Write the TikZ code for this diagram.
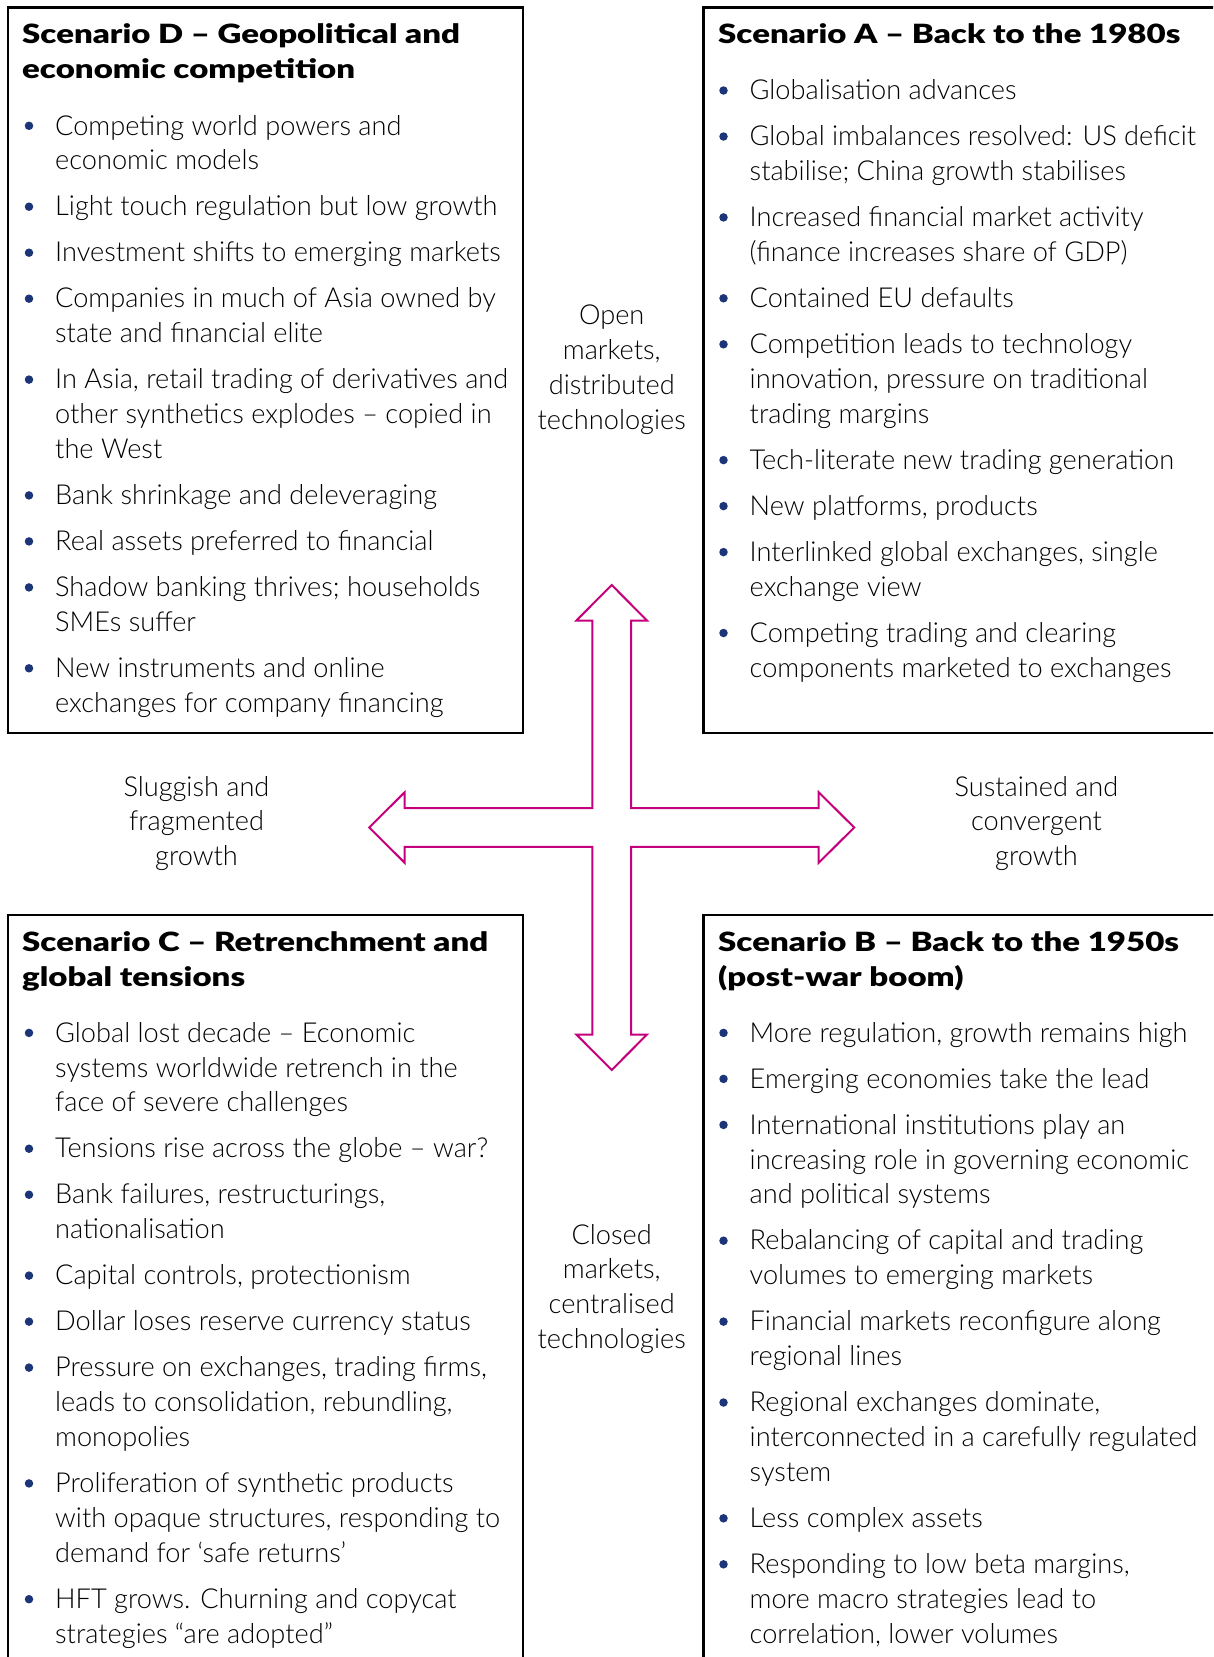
\documentclass[tikz,border=0pt]{standalone}
\usepackage{fontspec}
\IfFontExistsTF{Lato Light}{\newfontfamily\bodyf{Lato Light}[FakeStretch=0.988]}{\newfontfamily\bodyf{Lato}[FakeStretch=0.988]}
\IfFontExistsTF{Lato Black}{\newfontfamily\headf{Lato Black}[FakeStretch=1.245]}{\newfontfamily\headf{Lato}[UprightFont={* Bold},FakeStretch=1.245]}
\definecolor{arrowc}{RGB}{196,0,125}
\definecolor{bulc}{RGB}{28,52,120}
\newcommand\bitem[4]{%
  \node[itm] (#1) at (#2,#3-30) {\rule{0pt}{30pt}#4};
  \node[bul] (#1b) at (#2-26,#3-9) {};}
\newcommand\ttitle[4]{\node[ttl] (#1) at (#2,#3-30) {\rule{0pt}{30pt}#4};}
\newcommand\axlabel[4]{\node[axl] (#1) at (#2,#3-30) {\rule{0pt}{30pt}#4};}
\begin{document}
\begin{tikzpicture}[x=1pt,y=-1pt,
  box/.style={line width=2.2pt, draw=black},
  itm/.style={anchor=north west, inner sep=0pt, align=left, font=\bodyf\fontsize{27.5}{34.9}\selectfont},
  ttl/.style={anchor=north west, inner sep=0pt, align=left, font=\headf\fontsize{26.5}{34.9}\selectfont},
  axl/.style={anchor=north, inner sep=0pt, align=center, font=\bodyf\fontsize{27.5}{34.9}\selectfont},
  bul/.style={circle, fill=bulc, inner sep=0pt, minimum size=8.5pt},
  crossarrow/.style={draw=arrowc, line width=2pt, line join=miter}]
\useasboundingbox (0,0) rectangle (1213,1657);
\clip (0,0) rectangle (1213,1657);
\fill[white] (0,0) rectangle (1213,1657);

% boxes
\draw[box] (8.3,7.4) rectangle (523,733);
\draw[box] (1230,7.4) -- (703.5,7.4) -- (703.5,733) -- (1230,733);
\draw[box] (523,1680) -- (523,915) -- (8.3,915) -- (8.3,1680);
\draw[box] (1230,915) -- (703.5,915) -- (703.5,1680);

% cross arrow
\coordinate (ctr) at (611.7,827.5);
\draw[crossarrow, shift={(ctr)}]
  (0,-242.5) -- (35.3,-207) -- (19.3,-207) -- (19.3,-19.3) -- (207,-19.3) -- (207,-35.3)
  -- (242.5,0) -- (207,35.3) -- (207,19.3) -- (19.3,19.3) -- (19.3,207) -- (35.3,207)
  -- (0,242.5) -- (-35.3,207) -- (-19.3,207) -- (-19.3,19.3) -- (-207,19.3) -- (-207,35.3)
  -- (-242.5,0) -- (-207,-35.3) -- (-207,-19.3) -- (-19.3,-19.3) -- (-19.3,-207) -- (-35.3,-207) -- cycle;

% axis labels
\axlabel{open}{611.7}{324.5}{Open\\markets,\\distributed\\technologies}
\axlabel{closed}{611.7}{1243.8}{Closed\\markets,\\centralised\\technologies}
\axlabel{slug}{196.5}{795.8}{Sluggish and\\fragmented\\growth}
\axlabel{sust}{1036.5}{795.8}{Sustained and\\convergent\\growth}

% Scenario D
\ttitle{tD}{22}{43.7}{Scenario D – Geopolitical and\\economic competition}
\bitem{d1}{55}{134.8}{Competing world powers and\\economic models}
\bitem{d2}{55}{215.7}{Light touch regulation but low growth}
\bitem{d3}{55}{261.7}{Investment shifts to emerging markets}
\bitem{d4}{55}{307.7}{Companies in much of Asia owned by\\state and financial elite}
\bitem{d5}{55}{388.6}{In Asia, retail trading of derivatives and\\other synthetics explodes – copied in\\the West}
\bitem{d6}{55}{504.4}{Bank shrinkage and deleveraging}
\bitem{d7}{55}{550.4}{Real assets preferred to financial}
\bitem{d8}{55}{596.4}{Shadow banking thrives; households\\SMEs suffer}
\bitem{d9}{55}{677.3}{New instruments and online\\exchanges for company financing}

% Scenario A
\ttitle{tA}{718}{43.7}{Scenario A – Back to the 1980s}
\bitem{a1}{749.5}{99.5}{Globalisation advances}
\bitem{a2}{749.5}{145.5}{Global imbalances resolved: US deficit\\stabilise; China growth stabilises}
\bitem{a3}{749.5}{226.4}{Increased financial market activity\\(finance increases share of GDP)}
\bitem{a4}{749.5}{307.3}{Contained EU defaults}
\bitem{a5}{749.5}{353.3}{Competition leads to technology\\innovation, pressure on traditional\\trading margins}
\bitem{a6}{749.5}{469.1}{Tech-literate new trading generation}
\bitem{a7}{749.5}{515.1}{New platforms, products}
\bitem{a8}{749.5}{561.1}{Interlinked global exchanges, single\\exchange view}
\bitem{a9}{749.5}{642.0}{Competing trading and clearing\\components marketed to exchanges}

% Scenario C
\ttitle{tC}{22}{951.3}{Scenario C – Retrenchment and\\global tensions}
\bitem{c1}{55}{1041.9}{Global lost decade – Economic\\systems worldwide retrench in the\\face of severe challenges}
\bitem{c2}{55}{1157.7}{Tensions rise across the globe – war?}
\bitem{c3}{55}{1203.7}{Bank failures, restructurings,\\nationalisation}
\bitem{c4}{55}{1284.6}{Capital controls, protectionism}
\bitem{c5}{55}{1330.6}{Dollar loses reserve currency status}
\bitem{c6}{55}{1376.6}{Pressure on exchanges, trading firms,\\leads to consolidation, rebundling,\\monopolies}
\bitem{c7}{55}{1492.4}{Proliferation of synthetic products\\with opaque structures, responding to\\demand for ‘safe returns’}
\bitem{c8}{55}{1608.2}{HFT grows. Churning and copycat\\strategies “are adopted”}

% Scenario B
\ttitle{tB}{718}{951.3}{Scenario B – Back to the 1950s\\(post-war boom)}
\bitem{b1}{749.5}{1041.9}{More regulation, growth remains high}
\bitem{b2}{749.5}{1087.9}{Emerging economies take the lead}
\bitem{b3}{749.5}{1133.9}{International institutions play an\\increasing role in governing economic\\and political systems}
\bitem{b4}{749.5}{1249.7}{Rebalancing of capital and trading\\volumes to emerging markets}
\bitem{b5}{749.5}{1330.6}{Financial markets reconfigure along\\regional lines}
\bitem{b6}{749.5}{1411.5}{Regional exchanges dominate,\\interconnected in a carefully regulated\\system}
\bitem{b7}{749.5}{1527.3}{Less complex assets}
\bitem{b8}{749.5}{1573.3}{Responding to low beta margins,\\more macro strategies lead to\\correlation, lower volumes}
\end{tikzpicture}
\end{document}
